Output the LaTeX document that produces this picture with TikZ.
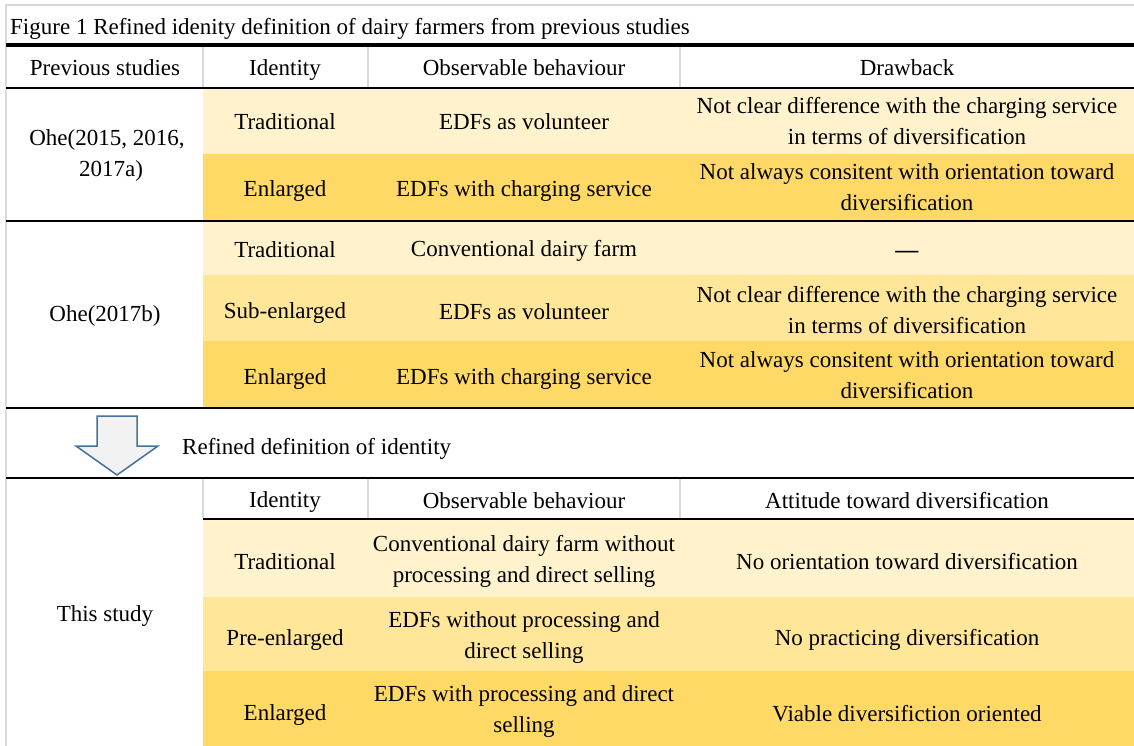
\documentclass[tikz,border=0pt]{standalone}
\usepackage{fontspec}
\setmainfont{Liberation Serif}
\definecolor{lightgold}{HTML}{FFF2CC}
\definecolor{midgold}{HTML}{FFE699}
\definecolor{darkgold}{HTML}{FFD966}
\definecolor{framegray}{HTML}{D9D9D9}
\definecolor{arrowblue}{HTML}{41719C}
\definecolor{arrowfill}{HTML}{F2F2F2}
\newcommand{\cellstrut}{\vrule height 21pt depth 3pt width 0pt}

\begin{document}
\begin{tikzpicture}[x=1pt, y=-1pt,
    cell/.style={align=center, inner sep=0pt,
        execute at begin node=\cellstrut, execute at end node=\cellstrut},
    sep/.style={color=framegray, line width=1.5pt},
    font=\fontsize{23}{31}\selectfont]
    \useasboundingbox (0,0) rectangle (1134,746);
    % Zellen einfaerben
    \foreach \ya/\yb/\col in {88/154/lightgold, 154/221/darkgold,
        221/275/lightgold, 275/341/midgold, 341/408/darkgold,
        519/597/lightgold, 597/671/midgold, 671/746/darkgold}
        \fill[\col] (203,\ya) rectangle (1134,\yb);
    % Rahmen und Linien
    \draw[framegray, line width=2pt] (6,746) -- (6,5) -- (1134,5);
    \draw[line width=3.5pt] (6,45) -- (1134,45);
    \foreach \y/\w in {88/2pt, 221/2pt, 408/2.5pt, 478/2pt}
        \draw[line width=\w] (6,\y) -- (1134,\y);
    \draw[line width=1.5pt] (203,519) -- (1134,519);
    \foreach \x in {203,368,680} {
        \draw[sep] (\x,47) -- (\x,87);
        \draw[sep] (\x,479) -- (\x,518);
    }
    % Titel und Kopfzeile
    \node[cell, anchor=west] (title) at (10,26) {Figure 1 Refined idenity definition of dairy farmers from previous studies};
    \node[cell] (hstudy) at (105,67) {Previous studies};
    \node[cell] (hid) at (285,67) {Identity};
    \node[cell] (hbeh) at (524,67) {Observable behaviour};
    \node[cell] (hdraw) at (907,67) {Drawback};
    % Ohe 2015--2017a
    \node[cell] (ohea) at (107,155) {Ohe(2015, 2016,\\ \hspace*{8pt}2017a)};
    \node[cell] (ohea-id1) at (285,121) {Traditional};
    \node[cell] (ohea-beh1) at (524,121) {EDFs as volunteer};
    \node[cell] (ohea-dr1) at (907,122) {Not clear difference with the charging service\\ in terms of diversification};
    \node[cell] (ohea-id2) at (285,188) {Enlarged};
    \node[cell] (ohea-beh2) at (524,188) {EDFs with charging service};
    \node[cell] (ohea-dr2) at (907,189) {Not always consitent with orientation toward\\ diversification};
    % Ohe 2017b
    \node[cell] (oheb) at (105,313) {Ohe(2017b)};
    \node[cell] (oheb-id1) at (285,248) {Traditional};
    \node[cell] (oheb-beh1) at (524,248) {Conventional dairy farm};
    \node[cell] (oheb-dr1) at (907,248) {\textbf{\textemdash}};
    \node[cell] (oheb-id2) at (285,310) {Sub-enlarged};
    \node[cell] (oheb-beh2) at (524,310) {EDFs as volunteer};
    \node[cell] (oheb-dr2) at (907,311) {Not clear difference with the charging service\\ in terms of diversification};
    \node[cell] (oheb-id3) at (285,376) {Enlarged};
    \node[cell] (oheb-beh3) at (524,376) {EDFs with charging service};
    \node[cell] (oheb-dr3) at (907,377) {Not always consitent with orientation toward\\ diversification};
    % Pfeil
    \draw[arrowblue, fill=arrowfill, line width=1.5pt] (97,416) -- (137,416) -- (137,446)
        -- (158,446) -- (117,475) -- (76,446) -- (97,446) -- cycle;
    \node[cell, anchor=west] (refine) at (182,446) {Refined definition of identity};
    % This study
    \node[cell] (hid2) at (285,499) {Identity};
    \node[cell] (hbeh2) at (524,499) {Observable behaviour};
    \node[cell] (hatt) at (907,499) {Attitude toward diversification};
    \node[cell] (this) at (105,613) {This study};
    \node[cell] (this-id1) at (285,560) {Traditional};
    \node[cell] (this-beh1) at (524,561) {Conventional dairy farm without\\ processing and direct selling};
    \node[cell] (this-att1) at (907,560) {No orientation toward diversification};
    \node[cell] (this-id2) at (285,637) {Pre-enlarged};
    \node[cell] (this-beh2) at (524,637) {EDFs without processing and\\ direct selling};
    \node[cell] (this-att2) at (907,637) {No practicing diversification};
    \node[cell] (this-id3) at (285,712) {Enlarged};
    \node[cell] (this-beh3) at (524,711) {EDFs with processing and direct\\ selling};
    \node[cell] (this-att3) at (907,712) {Viable diversifiction oriented};
\end{tikzpicture}
\end{document}
